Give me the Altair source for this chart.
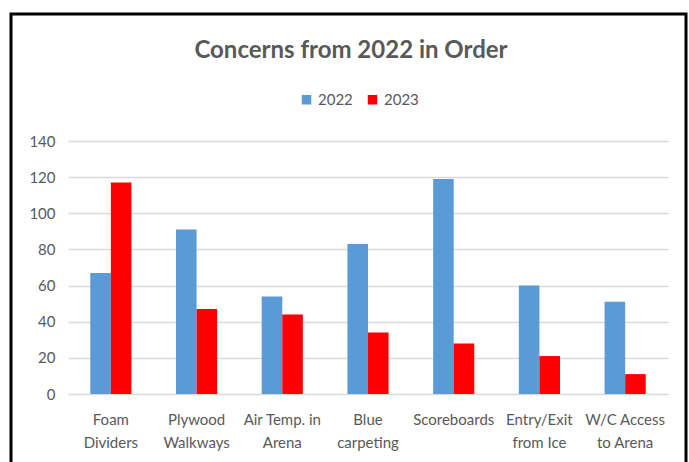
import altair as alt
import pandas as pd

categories = ["Foam\nDividers", "Plywood\nWalkways", "Air Temp. in\nArena", "Blue\ncarpeting",
              "Scoreboards", "Entry/Exit\nfrom Ice", "W/C Access\nto Arena"]
values_2022 = [67, 91, 54, 83, 119, 60, 51]
values_2023 = [117, 47, 44, 34, 28, 21, 11]
series = ["2022", "2023"]
colors = ["#5B9BD5", "#FF0000"]
y_ticks = [0, 20, 40, 60, 80, 100, 120, 140]

rows = []
for c, a, b in zip(categories, values_2022, values_2023):
    rows.append({"cat": c, "year": "2022", "value": a})
    rows.append({"cat": c, "year": "2023", "value": b})
df = pd.DataFrame(rows)

FONT = "Lato"
GRAY = "#595959"

bars = alt.Chart(df).mark_bar().encode(
    x=alt.X("cat:N", sort=categories, title=None,
            scale=alt.Scale(paddingInner=0.52, paddingOuter=0.26),
            axis=alt.Axis(labelAngle=0, labelExpr="split(datum.value, '\\n')",
                          labelFont=FONT, labelFontSize=15, labelColor=GRAY,
                          labelLineHeight=23, labelPadding=18, ticks=False,
                          domain=False, grid=False)),
    xOffset=alt.XOffset("year:N", sort=series),
    y=alt.Y("value:Q", title=None,
            scale=alt.Scale(domain=[0, 140], nice=False),
            axis=alt.Axis(values=y_ticks, labelFont=FONT, labelFontSize=15,
                          labelColor=GRAY, labelPadding=13, ticks=False, domain=False,
                          gridColor="#D9D9D9", gridWidth=1.5)),
    color=alt.Color("year:N", sort=series,
                    scale=alt.Scale(domain=series, range=colors),
                    legend=alt.Legend(title=None, orient="none", direction="horizontal",
                                      legendX=231, legendY=-49, symbolType="square",
                                      symbolSize=90, symbolStrokeWidth=0,
                                      labelFont=FONT, labelFontSize=15, labelColor=GRAY,
                                      columnPadding=12, labelOffset=4)),
)

border = alt.Chart(alt.Data(values=[{"k": 1}])).mark_rect(
    fill=None, stroke="black", strokeWidth=3
).encode(
    x=alt.value(-57), x2=alt.value(618), y=alt.value(-127), y2=alt.value(340)
)

chart = alt.layer(bars, border).properties(
    width=600, height=253,
    title=alt.TitleParams("Concerns from 2022 in Order", font=FONT, fontSize=24,
                          fontWeight="bold", color=GRAY, anchor="middle", dx=-17,
                          offset=0, dy=50),
    autosize=alt.AutoSizeParams(type="none"),
    padding={"left": 68, "top": 141, "right": 21, "bottom": 68},
    background="white",
).configure_view(stroke=None)

chart.save("out.html", embed_options={"renderer": "svg", "actions": False})
